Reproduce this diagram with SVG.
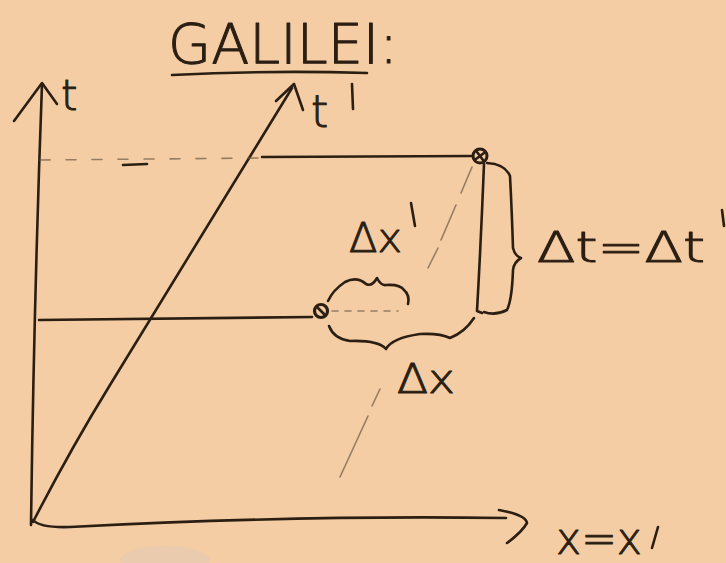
<svg xmlns="http://www.w3.org/2000/svg" width="726" height="563" viewBox="0 0 726 563">
<style>
.ink{fill:none;stroke:#2b1e12;stroke-width:2.6;stroke-linecap:round;stroke-linejoin:round}
.thin{fill:none;stroke:#2b1e12;stroke-width:2.6;stroke-linecap:round}
.faint{fill:none;stroke:#6e5a44;stroke-width:1.6;stroke-linecap:round;opacity:0.7}
.lbl{font-family:"DejaVu Sans","Liberation Sans",sans-serif;font-weight:200;fill:#2b1e12;stroke:#2b1e12;stroke-width:1;stroke-linejoin:round}
</style>
<rect width="726" height="563" fill="#F4CDA4"/>
<ellipse cx="165" cy="560" rx="45" ry="14" fill="#e6cbb2" opacity="0.7"/>

<g id="title">
<text class="lbl" x="168" y="63" font-size="56" textLength="230" lengthAdjust="spacingAndGlyphs">GALILEI:</text>
<path class="ink" d="M172 75 Q270 70 367 73"/>
</g>

<g id="t-axis">
<path class="ink" d="M31 525 Q34 300 42 84"/>
<path class="ink" d="M14 121 L42 83 L57 104"/>
<text class="lbl" x="61" y="110" font-size="42">t</text>
<path class="thin" d="M123 165 L147 164"/>
</g>

<g id="tprime-axis">
<path class="ink" d="M33 522 Q70 450 110 385 L292 88"/>
<path class="ink" d="M276 101 L294 84 L303 110"/>
<text class="lbl" x="311" y="127" font-size="44">t</text>
<path class="thin" d="M352 84 L353 109"/>
</g>

<g id="x-axis">
<path class="ink" d="M33 520 Q40 528 70 527 Q300 515 506 518"/>
<path class="ink" d="M499 510 Q526 515 527 523 Q522 532 507 543"/>
<text class="lbl" x="556" y="554" font-size="44" textLength="86" lengthAdjust="spacingAndGlyphs">x=x</text>
<path class="thin" d="M658 527 L652 548"/>
</g>

<g id="upper-event">
<path class="faint" d="M40 160 L262 158" stroke-dasharray="10 16"/>
<path class="ink" d="M262 157 L473 156"/>
<circle cx="480" cy="156" r="7" fill="none" stroke="#2b1e12" stroke-width="3"/>
<path class="thin" d="M477 152 L483 160 M476 159 L484 153" stroke-width="2"/>
</g>

<g id="lower-event">
<path class="ink" d="M39 320 L312 317"/>
<circle cx="321" cy="311" r="6.5" fill="none" stroke="#2b1e12" stroke-width="3.2"/>
<path class="thin" d="M318 308 L324 314" stroke-width="2"/>
<path class="faint" d="M332 311 L398 311" stroke-dasharray="6 7"/>
</g>

<g id="vertical-bracket">
<path class="ink" d="M484 164 Q481 240 477 311 L482 313"/>
<path class="ink" d="M487 163 Q505 164 510 176 Q512 215 513 248 Q515 256 521 258 Q514 262 513 270 Q512 300 507 310 Q495 316 484 312"/>
</g>

<g id="diagonal">
<path class="faint" d="M472 167 L461 193 M456 205 L441 240 M438 248 L428 268 M380 389 L372 406 M368 416 L340 477"/>
</g>

<g id="dx-prime">
<path class="ink" d="M328 301 Q333 290 345 282 Q357 276 366 284 Q372 287 377 278 Q381 286 386 285 Q400 284 404 290 Q410 295 408 304"/>
<text class="lbl" x="349" y="252" font-size="40" textLength="53" lengthAdjust="spacingAndGlyphs">Δx</text>
<path class="thin" d="M411 203 L415 226"/>
</g>

<g id="dx">
<path class="ink" d="M329 326 Q334 339 350 341 Q378 340 386 349 Q392 338 420 334 Q440 333 450 338 Q465 332 474 318"/>
<text class="lbl" x="397" y="393" font-size="40" textLength="58" lengthAdjust="spacingAndGlyphs">Δx</text>
</g>

<g id="dt">
<text class="lbl" x="537" y="262" font-size="42" textLength="168" lengthAdjust="spacingAndGlyphs">Δt=Δt</text>
<path class="thin" d="M722 210 L724 226"/>
</g>
</svg>
